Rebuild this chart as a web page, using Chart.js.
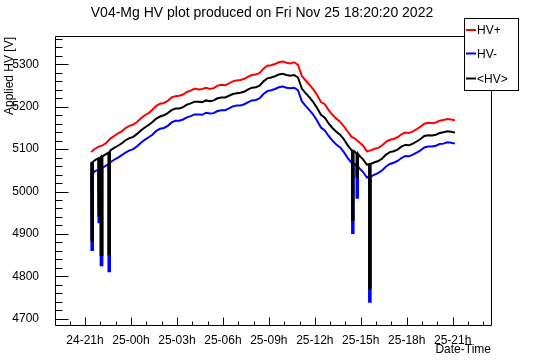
<!DOCTYPE html>
<html>
<head>
<meta charset="utf-8">
<title>V04-Mg HV plot</title>
<script src="https://cdn.jsdelivr.net/npm/chart.js@4.4.0/dist/chart.umd.min.js"></script>
<style>
    html, body { margin: 0; padding: 0; background: #fff; }
    canvas { display: block; }
</style>
</head>
<body>
<canvas id="hvChart" width="546" height="362"></canvas>
<script>
(function() {
    'use strict';

    // hours since 24 Nov 21:00, one reading every 15 min
    var hours = [0.4, 0.65, 0.9, 1.15, 1.4, 1.65, 1.9, 2.15, 2.4, 2.65, 2.9, 3.15, 3.4, 3.65, 3.9, 4.15,
        4.4, 4.65, 4.9, 5.15, 5.4, 5.65, 5.9, 6.15, 6.4, 6.65, 6.9, 7.15, 7.4, 7.65, 7.9, 8.15,
        8.4, 8.65, 8.9, 9.15, 9.4, 9.65, 9.9, 10.15, 10.4, 10.65, 10.9, 11.15, 11.4, 11.65, 11.9, 12.15,
        12.4, 12.65, 12.9, 13.15, 13.4, 13.65, 13.9, 14.15, 14.4, 14.65, 14.9, 15.15, 15.4, 15.65, 15.9, 16.15,
        16.4, 16.65, 16.9, 17.15, 17.4, 17.65, 17.9, 18.15, 18.4, 18.65, 18.9, 19.15, 19.4, 19.65, 19.9, 20.15,
        20.4, 20.65, 20.9, 21.15, 21.4, 21.65, 21.9, 22.15, 22.4, 22.65, 22.9, 23.15, 23.4, 23.65, 23.9, 24.15];

    var hvPlus = [5093, 5101, 5106, 5109, 5115, 5125, 5131, 5137, 5142, 5150, 5155, 5158, 5164, 5173, 5180, 5185,
        5193, 5202, 5207, 5209, 5214, 5222, 5225, 5226, 5229, 5235, 5238, 5243, 5241, 5242, 5245, 5242,
        5244, 5250, 5252, 5251, 5255, 5260, 5262, 5263, 5266, 5271, 5275, 5276, 5280, 5290, 5297, 5298,
        5301, 5305, 5307, 5304, 5302, 5305, 5299, 5273, 5262, 5252, 5241, 5228, 5211, 5206, 5192, 5181,
        5172, 5165, 5154, 5141, 5129, 5124, 5116, 5108, 5095, 5097, 5101, 5103, 5109, 5117, 5122, 5124,
        5128, 5135, 5139, 5138, 5142, 5147, 5153, 5160, 5162, 5161, 5163, 5167, 5169, 5171, 5170, 5168];

    var hvMinus = [5042, 5048, 5052, 5056, 5062, 5069, 5075, 5080, 5086, 5092, 5097, 5100, 5107, 5115, 5122, 5128,
        5134, 5143, 5148, 5150, 5155, 5163, 5167, 5167, 5170, 5175, 5178, 5182, 5182, 5181, 5186, 5184,
        5185, 5190, 5192, 5192, 5196, 5201, 5203, 5203, 5206, 5211, 5215, 5216, 5220, 5230, 5237, 5239,
        5242, 5246, 5248, 5245, 5244, 5245, 5239, 5213, 5202, 5192, 5181, 5167, 5151, 5144, 5131, 5120,
        5111, 5104, 5093, 5079, 5068, 5064, 5055, 5046, 5033, 5035, 5040, 5044, 5050, 5059, 5065, 5068,
        5072, 5079, 5084, 5083, 5087, 5092, 5097, 5104, 5106, 5106, 5108, 5112, 5113, 5116, 5115, 5113];

    var hvAvg = [5068, 5074, 5079, 5083, 5089, 5097, 5103, 5108, 5114, 5121, 5126, 5129, 5136, 5144, 5151, 5157,
        5164, 5172, 5177, 5180, 5185, 5192, 5196, 5196, 5199, 5205, 5208, 5212, 5212, 5211, 5215, 5213,
        5215, 5220, 5222, 5222, 5226, 5230, 5232, 5233, 5236, 5241, 5245, 5246, 5250, 5260, 5267, 5269,
        5272, 5276, 5278, 5275, 5273, 5275, 5269, 5243, 5232, 5222, 5211, 5197, 5181, 5174, 5161, 5150,
        5141, 5134, 5123, 5109, 5097, 5093, 5085, 5076, 5063, 5065, 5069, 5072, 5078, 5087, 5093, 5095,
        5099, 5106, 5110, 5109, 5113, 5118, 5124, 5131, 5133, 5132, 5134, 5138, 5140, 5142, 5141, 5139];

    // short trips of the supply: start hour, level before, bottom of the drop
    var tripHours = [0.42, 0.86, 1.02, 1.53, 17.43, 17.72, 18.54];
    var tripAvgTop = [5070, 5078, 5081, 5092, 5096, 5089, 5065];
    var tripAvgLow = [4885, 4940, 4850, 4852, 4933, 5035, 4772];
    var tripMinusTop = [5044, 5051, 5054, 5065, 5067, 5060, 5035];
    var tripMinusLow = [4862, 4925, 4826, 4812, 4902, 4985, 4740];
    var tripLength = 0.1;

    var xMin = -1.96, xMax = 26.5;
    var yMin = 4685, yMax = 5367;
    var FONT = '"Liberation Sans", Arial, Helvetica, sans-serif';

    function buildSeries(values, tops, lows) {
        var pts = hours.map(function(h, i) { return { x: h, y: values[i] }; });
        if (tops) {
            tripHours.forEach(function(h, i) {
                pts.push({ x: h, y: tops[i] });
                pts.push({ x: h, y: lows[i] });
                pts.push({ x: h + tripLength, y: lows[i] });
                pts.push({ x: h + tripLength, y: tops[i] });
            });
            pts.sort(function(a, b) { return a.x - b.x; });
        }
        return pts;
    }

    function tickRange(from, to, step) {
        var out = [];
        for (var v = from; v <= to; v += step) out.push({ value: v });
        return out;
    }

    function hourLabel(v) {
        if (v % 3 !== 0) return '';
        var t = v + 21;
        var day = 24 + Math.floor(t / 24);
        var hr = ((t % 24) + 24) % 24;
        return day + '-' + (hr < 10 ? '0' : '') + hr + 'h';
    }

    var rootFrame = {
        id: 'rootFrame',
        afterDraw: function(chart) {
            var ctx = chart.ctx;
            var a = chart.chartArea;
            var xs = chart.scales.x;
            var ys = chart.scales.y;
            var left = Math.round(a.left) + 0.5;
            var top = Math.round(a.top) + 0.5;
            var right = Math.round(a.right) + 0.5;
            var bottom = Math.round(a.bottom) + 0.5;

            ctx.save();
            ctx.strokeStyle = '#000000';
            ctx.lineWidth = 1;

            // frame + inward ticks
            ctx.beginPath();
            ctx.rect(left, top, right - left, bottom - top);
            ys.ticks.forEach(function(t) {
                var y = Math.round(ys.getPixelForValue(t.value)) + 0.5;
                var len = t.value % 100 === 0 ? 13 : 7;
                ctx.moveTo(left, y);
                ctx.lineTo(left + len, y);
            });
            xs.ticks.forEach(function(t) {
                var x = Math.round(xs.getPixelForValue(t.value)) + 0.5;
                var len = t.value % 3 === 0 ? 8 : 4;
                ctx.moveTo(x, bottom);
                ctx.lineTo(x, bottom - len);
            });
            ctx.stroke();

            ctx.fillStyle = '#000000';

            // title
            ctx.font = '14px ' + FONT;
            ctx.textAlign = 'center';
            ctx.textBaseline = 'alphabetic';
            ctx.fillText('V04-Mg HV plot produced on Fri Nov 25 18:20:20 2022', 262, 17);

            // axis titles
            ctx.font = '12px ' + FONT;
            ctx.textAlign = 'right';
            ctx.fillText('Date-Time', Math.round(a.right), 353);

            ctx.save();
            ctx.translate(13, a.top + 1);
            ctx.rotate(-Math.PI / 2);
            ctx.textAlign = 'right';
            ctx.fillText('Applied HV [V]', 0, 0);
            ctx.restore();

            // legend box, drawn over the frame corner
            var bx = 464.5, by = 18.5, bw = 54, bh = 72;
            ctx.fillStyle = '#ffffff';
            ctx.fillRect(bx, by, bw, bh);
            ctx.strokeRect(bx, by, bw, bh);

            var rows = [30, 53.5, 78.5];
            ctx.textAlign = 'left';
            ctx.textBaseline = 'middle';
            chart.data.datasets.forEach(function(ds, i) {
                ctx.strokeStyle = ds.borderColor;
                ctx.lineWidth = 2;
                ctx.beginPath();
                ctx.moveTo(466, rows[i]);
                ctx.lineTo(476, rows[i]);
                ctx.stroke();
                ctx.fillStyle = '#000000';
                ctx.fillText(ds.label, 477, rows[i] + 1);
            });
            ctx.restore();
        }
    };

    var ctx = document.getElementById('hvChart').getContext('2d');

    new Chart(ctx, {
        type: 'line',
        data: {
            datasets: [{
                label: 'HV+',
                data: buildSeries(hvPlus),
                borderColor: '#ff0000',
                borderWidth: 2,
                order: 2
            }, {
                label: 'HV-',
                data: buildSeries(hvMinus, tripMinusTop, tripMinusLow),
                borderColor: '#0000ff',
                borderWidth: 2,
                order: 1
            }, {
                label: '<HV>',
                data: buildSeries(hvAvg, tripAvgTop, tripAvgLow),
                borderColor: '#000000',
                borderWidth: 2,
                order: 0
            }]
        },
        options: {
            responsive: false,
            animation: false,
            events: [],
            layout: {
                padding: { left: 0, top: 36, right: 55, bottom: 0 }
            },
            elements: {
                point: { radius: 0, hoverRadius: 0 },
                line: { tension: 0, fill: false, borderJoinStyle: 'miter' }
            },
            plugins: {
                legend: { display: false },
                title: { display: false },
                tooltip: { enabled: false }
            },
            scales: {
                x: {
                    type: 'linear',
                    min: xMin,
                    max: xMax,
                    grid: { display: false },
                    border: { display: false },
                    afterFit: function(scale) { scale.height = 37; },
                    afterBuildTicks: function(scale) { scale.ticks = tickRange(-1, 26, 1); },
                    ticks: {
                        autoSkip: false,
                        maxRotation: 0,
                        padding: 0,
                        color: '#000000',
                        font: { family: FONT, size: 12 },
                        callback: function(v) { return hourLabel(v); }
                    }
                },
                y: {
                    min: yMin,
                    max: yMax,
                    grid: { display: false },
                    border: { display: false },
                    afterFit: function(scale) { scale.width = 55; },
                    afterBuildTicks: function(scale) { scale.ticks = tickRange(4700, 5360, 20); },
                    ticks: {
                        autoSkip: false,
                        padding: 8,
                        color: '#000000',
                        font: { family: FONT, size: 12 },
                        callback: function(v) { return v % 100 === 0 ? String(v) : ''; }
                    }
                }
            }
        },
        plugins: [rootFrame]
    });

})();
</script>
</body>
</html>
